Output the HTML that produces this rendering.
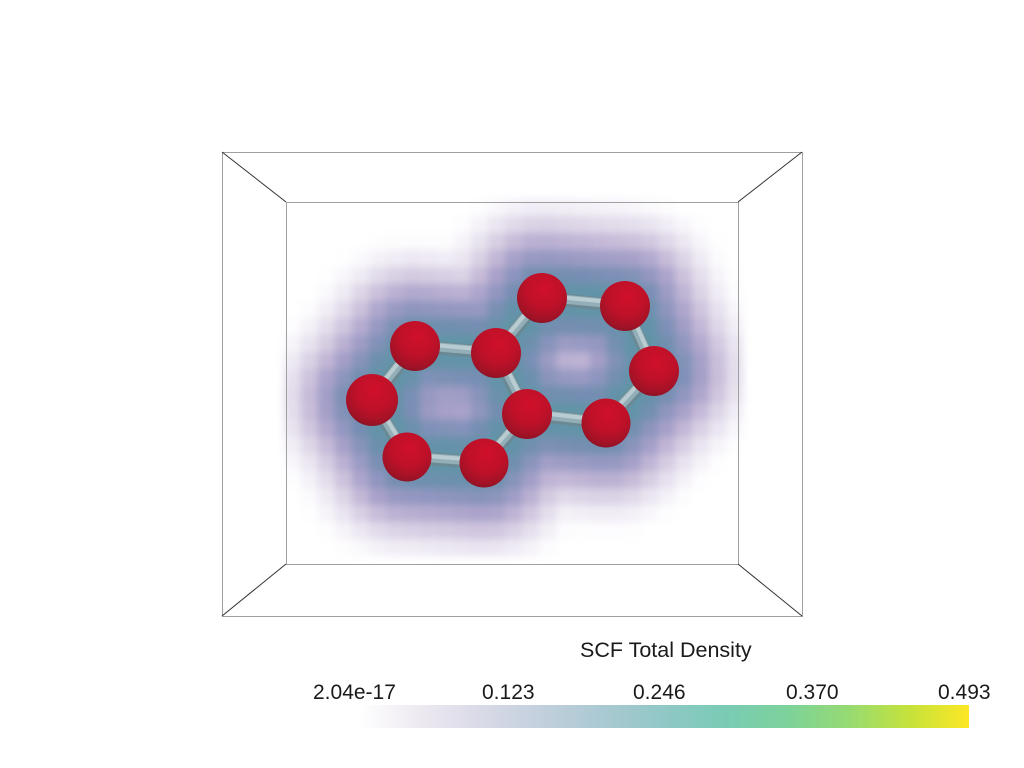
<!DOCTYPE html>
<html>
<head>
<meta charset="utf-8">
<style>
  html,body{margin:0;padding:0;background:#fff;}
  #wrap{position:relative;width:1024px;height:768px;overflow:hidden;background:#fff;font-family:"Liberation Sans",sans-serif;}
  #cloud{position:absolute;left:222px;top:152px;width:580px;height:464px;filter:blur(4px);}
  #scene{position:absolute;left:0;top:0;}
  .lbl{position:absolute;font-size:21px;color:#1a1a1a;white-space:nowrap;line-height:1;}
  #bar{position:absolute;left:359px;top:705px;width:610px;height:23px;
    background:linear-gradient(to right,
      rgb(255,255,255) 0%, rgb(237,233,241) 10%, rgb(217,218,231) 20%, rgb(194,207,221) 30%,
      rgb(170,201,210) 40%, rgb(144,200,198) 50%, rgb(122,203,181) 60%, rgb(124,210,155) 70%,
      rgb(149,218,116) 80%, rgb(196,226,60) 90%, rgb(253,231,37) 100%);}
</style>
</head>
<body>
<div id="wrap">
  <canvas id="cloud" width="580" height="464"></canvas>
  <svg id="scene" width="1024" height="768" viewBox="0 0 1024 768">
    <defs>
      <radialGradient id="ball" cx="55%" cy="32%" r="72%">
        <stop offset="0" stop-color="#d0102b"/>
        <stop offset="0.5" stop-color="#bf1129"/>
        <stop offset="0.85" stop-color="#a01226"/>
        <stop offset="1" stop-color="#821423"/>
      </radialGradient>
    </defs>
    <g fill="none" stroke-width="1">
      <rect x="222.5" y="152.5" width="580" height="464" stroke="#a0a0a0"/>
      <rect x="286.5" y="202.5" width="452" height="362" stroke="#a0a0a0"/>
      <line x1="222" y1="152" x2="286" y2="202" stroke="#333"/>
      <line x1="802" y1="152" x2="738" y2="202" stroke="#333"/>
      <line x1="222" y1="616" x2="286" y2="564" stroke="#333"/>
      <line x1="802" y1="616" x2="738" y2="564" stroke="#333"/>
    </g>
    <g id="bonds" stroke-linecap="butt"></g>
    <g id="atoms"></g>
  </svg>
  <div class="lbl" style="left:580px;top:640px;font-size:21.5px;">SCF Total Density</div>
  <div class="lbl" style="left:313px;top:682px;">2.04e-17</div>
  <div class="lbl" style="left:482px;top:682px;">0.123</div>
  <div class="lbl" style="left:633px;top:682px;">0.246</div>
  <div class="lbl" style="left:786px;top:682px;">0.370</div>
  <div class="lbl" style="left:938px;top:682px;">0.493</div>
  <div id="bar"></div>
</div>
<script>
(function(){
  var atoms=[[415,346],[496,353],[542,298],[625,306],[654,371],[606,423],[527,414],[484,463],[407,457],[372,400]];
  var bonds=[[0,1],[1,2],[2,3],[3,4],[4,5],[5,6],[6,1],[6,7],[7,8],[8,9],[9,0]];
  function segDist(px,py,ax,ay,bx,by){
    var dx=bx-ax,dy=by-ay;var t=((px-ax)*dx+(py-ay)*dy)/(dx*dx+dy*dy);
    t=Math.max(0,Math.min(1,t));var cx=ax+t*dx,cy=ay+t*dy;
    return Math.sqrt((px-cx)*(px-cx)+(py-cy)*(py-cy));
  }
  var stops=[[0,[95,150,165]],[14,[100,146,170]],[26,[118,142,178]],[38,[145,150,192]],
             [50,[170,162,202]],[62,[198,186,216]],[75,[220,212,230]],[90,[240,236,245]],
             [105,[252,251,253]],[115,[255,255,255]]];
  function col(d){
    if(d<=stops[0][0])return stops[0][1];
    for(var i=1;i<stops.length;i++){
      if(d<=stops[i][0]){var a=stops[i-1],b=stops[i];var t=(d-a[0])/(b[0]-a[0]);
        return [a[1][0]+(b[1][0]-a[1][0])*t,a[1][1]+(b[1][1]-a[1][1])*t,a[1][2]+(b[1][2]-a[1][2])*t];}
    }
    return [255,255,255];
  }
  var cv=document.getElementById('cloud');
  if(cv&&cv.getContext){
    var ctx=cv.getContext('2d');
    ctx.fillStyle='#fff';ctx.fillRect(0,0,580,464);
    var cs=17, ox=222, oy=152;
    for(var y=-4;y<464;y+=cs){
      for(var x=-6;x<580;x+=cs){
        var px=ox+x+cs/2,py=oy+y+cs/2,d=1e9;
        for(var k=0;k<bonds.length;k++){
          var a=atoms[bonds[k][0]],b=atoms[bonds[k][1]];
          var dd=segDist(px,py,a[0],a[1],b[0],b[1]);if(dd<d)d=dd;
        }
        if(px<290||px>736||py<205||py>562){d=Math.max(d,115);}
        var c=col(d);
        ctx.fillStyle='rgb('+Math.round(c[0])+','+Math.round(c[1])+','+Math.round(c[2])+')';
        ctx.fillRect(x,y,cs,cs);
      }
    }
  }
  var ns='http://www.w3.org/2000/svg';
  var gb=document.getElementById('bonds');
  bonds.forEach(function(bd){
    var a=atoms[bd[0]],b=atoms[bd[1]];
    var dx=b[0]-a[0],dy=b[1]-a[1],L=Math.sqrt(dx*dx+dy*dy);var nx=-dy/L,ny=dx/L;
    if(ny>0){nx=-nx;ny=-ny;}
    [[13,'#6a8994',0],[9,'#93aeb6',1],[4,'#b8ccd1',2.5]].forEach(function(s){
      var l=document.createElementNS(ns,'line');
      l.setAttribute('x1',a[0]+nx*s[2]);l.setAttribute('y1',a[1]+ny*s[2]);
      l.setAttribute('x2',b[0]+nx*s[2]);l.setAttribute('y2',b[1]+ny*s[2]);
      l.setAttribute('stroke',s[1]);l.setAttribute('stroke-width',s[0]);
      gb.appendChild(l);
    });
  });
  var ga=document.getElementById('atoms');
  var radii=[25,25,25,25,25,24.5,25,24.5,24.5,26];
  atoms.forEach(function(p,i){
    var c=document.createElementNS(ns,'circle');
    c.setAttribute('cx',p[0]);c.setAttribute('cy',p[1]);c.setAttribute('r',radii[i]);
    c.setAttribute('fill','url(#ball)');
    ga.appendChild(c);
  });
})();
</script>
</body>
</html>
